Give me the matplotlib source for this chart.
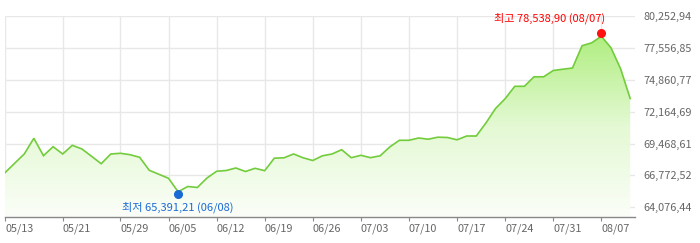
import numpy as np
import pandas as pd
import matplotlib
matplotlib.use("Agg")
import matplotlib.pyplot as plt
import matplotlib.transforms as mtransforms
from matplotlib.colors import LinearSegmentedColormap

plt.rcParams['font.family'] = ['Noto Sans CJK KR', 'DejaVu Sans']

# ---- data ----
dates = pd.bdate_range("2024-05-13", periods=66).strftime("%m/%d").tolist()
values = [
    67002, 67797, 68584, 69911, 68440, 69201, 68584, 69319, 69006, 68389,
    67763, 68584, 68643, 68524, 68305, 67205, 66867, 66529, 65391.21, 65835,
    65751, 66554, 67121, 67188, 67400, 67104, 67374, 67172, 68229, 68262,
    68584, 68262, 68034, 68431, 68584, 68947, 68271, 68474, 68271, 68431,
    69176, 69742, 69742, 69937, 69835, 70004, 69979, 69784, 70106, 70106,
    71205, 72431, 73260, 74308, 74308, 75112, 75112, 75644, 75754, 75856,
    77742, 77987, 78538.90, 77572, 75797, 73277,
]
x_tick_labels = ["05/13", "05/21", "05/29", "06/05", "06/12", "06/19", "06/26",
                 "07/03", "07/10", "07/17", "07/24", "07/31", "08/07"]
y_tick_values = [64076.44, 66772.52, 69468.61, 72164.69, 74860.77, 77556.85, 80252.94]
y_tick_labels = ["64,076,44", "66,772,52", "69,468,61", "72,164,69",
                 "74,860,77", "77,556,85", "80,252,94"]
low_label = "최저 65,391,21 (06/08)"
high_label = "최고 78,538,90 (08/07)"

# ---- figure ----
W, H = 700, 243
fig = plt.figure(figsize=(W / 100, H / 100), dpi=100)
ax = fig.add_axes([5 / W, 1 - 217 / H, (635 - 5) / W, (217 - 16) / H])

x = np.arange(len(values))
vals = np.array(values, dtype=float)
y_bottom = 63256
y_top = y_tick_values[-1]
ax.set_xlim(0, len(values) - 0.5)
ax.set_ylim(y_bottom, y_top)

# gradient fill
poly = ax.fill_between(x, vals, y_bottom, facecolor='none', edgecolor='none')
cmap = LinearSegmentedColormap.from_list("g", ["#fbfef8", "#e4f9d4", "#b0ee80"])
grad = np.linspace(0, 1, 256).reshape(-1, 1)
img = ax.imshow(grad, extent=[0, len(values) - 1, y_bottom, vals.max()],
                aspect='auto', cmap=cmap, origin='lower', zorder=1,
                interpolation='bilinear')
img.set_clip_path(poly.get_paths()[0], transform=ax.transData)

ax.plot(x, vals, color="#72cc3c", lw=1.2, zorder=3, solid_joinstyle='miter')

# ticks / grid
tick_idx = [dates.index(d) for d in x_tick_labels]
ax.set_xticks(tick_idx)
ax.set_xticklabels(x_tick_labels, ha='left')
ax.set_yticks(y_tick_values)
ax.set_yticklabels(y_tick_labels)
ax.yaxis.tick_right()
ax.grid(True, color="#e8e8e8", lw=1.0, zorder=0)
ax.set_axisbelow(True)
for s in ["top", "left", "right"]:
    ax.spines[s].set_visible(False)
ax.spines["bottom"].set_color("#888888")
ax.spines["bottom"].set_linewidth(1.0)
ax.tick_params(axis='x', length=3, color="#888888", labelsize=7.8,
               labelcolor="#666666", pad=2)
ax.tick_params(axis='y', length=0, labelsize=7.8, labelcolor="#666666", pad=6)

# min / max markers
imin = int(np.argmin(vals))
imax = int(np.argmax(vals))
up = mtransforms.offset_copy(ax.transData, fig=fig, x=0, y=2.4, units='points')
down = mtransforms.offset_copy(ax.transData, fig=fig, x=0, y=-1.8, units='points')
ax.plot([imax], [vals[imax]], 'o', color="#ff1111", ms=5.5, transform=up, zorder=5,
        clip_on=False)
ax.plot([imin], [vals[imin]], 'o', color="#1a6ad6", ms=5.5, transform=down, zorder=5,
        clip_on=False)
ax.annotate(high_label, (imax, vals[imax]), xytext=(3, 9), textcoords='offset points',
            ha='right', va='bottom', color="#ff0000", fontsize=8, zorder=6)
ax.annotate(low_label, (imin, vals[imin]), xytext=(0, -7), textcoords='offset points',
            ha='center', va='top', color="#1a6ad6", fontsize=8, zorder=6)

fig.savefig("out.png", dpi=100)
